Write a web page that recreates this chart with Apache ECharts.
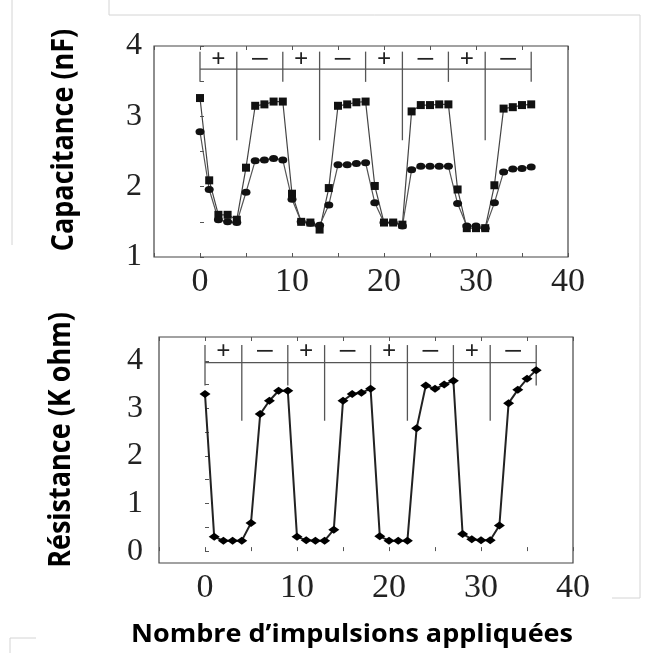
<!DOCTYPE html>
<html>
<head>
<meta charset="utf-8">
<script src="https://cdn.jsdelivr.net/npm/echarts@6/dist/echarts.min.js"></script>
<style>
html, body { margin: 0; padding: 0; background: #fff; }
#chart { width: 654px; height: 653px; }
</style>
</head>
<body>
<div id="chart"></div>
<script>
// nombre d'impulsions (axe x)
const pulses = [0,1,2,3,4,5,6,7,8,9,10,11,12,13,14,15,16,17,18,19,20,21,22,23,24,25,26,27,28,29,30,31,32,33,34,35,36]
// capacitance (nF), courbe carrés / courbe ronds
const capSquares = [3.26,2.09,1.60,1.60,1.53,2.27,3.15,3.17,3.21,3.21,1.90,1.50,1.49,1.39,1.98,3.15,3.17,3.20,3.21,2.01,1.49,1.49,1.46,3.07,3.16,3.16,3.17,3.17,1.96,1.41,1.41,1.41,2.02,3.11,3.13,3.16,3.17]
const capCircles = [2.78,1.96,1.53,1.50,1.49,1.92,2.37,2.38,2.40,2.38,1.82,1.50,1.48,1.45,1.74,2.31,2.31,2.33,2.34,1.77,1.49,1.49,1.44,2.24,2.29,2.29,2.29,2.29,1.76,1.44,1.44,1.41,1.77,2.21,2.25,2.26,2.28]
// résistance (K ohm)
const resistance = [3.30,0.30,0.22,0.22,0.22,0.59,2.88,3.16,3.37,3.37,0.30,0.23,0.22,0.22,0.45,3.16,3.30,3.33,3.41,0.31,0.22,0.22,0.22,2.58,3.48,3.41,3.50,3.58,0.36,0.25,0.23,0.23,0.54,3.11,3.39,3.62,3.80]
// limites des séquences +/-
const segBounds = [0,4,9,13,18,22,27,31,36]
const segSigns = ['+','\u2212','+','\u2212','+','\u2212','+','\u2212']
const xTicks = [0,10,20,30,40]
const capTicks = [1,2,3,4]
const resTicks = [0,1,2,3,4]

const serif = '"Liberation Serif", "DejaVu Serif", serif'
const sans = '"Open Sans", "Liberation Sans", sans-serif'

const chart = echarts.init(document.getElementById('chart'))

// crochets + / - dessinés dans le repère de l'axe
function bracket(idx, lineY, topY, shortY, longY, signY) {
  return {
    type: 'custom',
    xAxisIndex: idx * 2,
    yAxisIndex: idx,
    silent: true,
    z: 1,
    data: [0],
    renderItem: (params, api) => {
      const children = []
      const a = api.coord([segBounds[0], lineY])
      const b = api.coord([segBounds[segBounds.length - 1], lineY])
      children.push({ type: 'line', shape: { x1: a[0], y1: a[1], x2: b[0], y2: b[1] }, style: { stroke: '#555', lineWidth: 1.3 } })
      segBounds.forEach((x, i) => {
        const p1 = api.coord([x, topY])
        const p2 = api.coord([x, i % 2 === 1 ? longY : shortY])
        children.push({ type: 'line', shape: { x1: p1[0], y1: p1[1], x2: p2[0], y2: p2[1] }, style: { stroke: '#555', lineWidth: 1.3 } })
      })
      segSigns.forEach((s, i) => {
        const c = api.coord([(segBounds[i] + segBounds[i + 1]) / 2, signY])
        children.push({
          type: 'text', x: c[0], y: c[1], scaleX: s === '+' ? 1 : 1.35,
          style: { text: s, x: 0, y: 0, textAlign: 'center', textVerticalAlign: 'middle', font: 'bold 25px ' + serif, fill: '#222' }
        })
      })
      return { type: 'group', children }
    }
  }
}

function xAxes(gridIndex) {
  return [
    {
      type: 'value', gridIndex, min: -5, max: 40, interval: 5,
      axisLine: { show: false },
      axisTick: { inside: true, length: 4, lineStyle: { color: '#555' } },
      axisLabel: { formatter: v => (xTicks.includes(v) ? String(v) : ''), fontFamily: serif, fontSize: 34, color: '#222', margin: 8 },
      splitLine: { show: false }
    },
    {
      type: 'value', gridIndex, position: 'top', min: -5, max: 40, interval: 5,
      axisLine: { show: false },
      axisTick: { inside: true, length: 4, lineStyle: { color: '#555' } },
      axisLabel: { show: false },
      splitLine: { show: false }
    }
  ]
}

const option = {
  animation: false,
  grid: [
    { left: 154, top: 46, width: 414, height: 211, show: true, borderColor: '#444', borderWidth: 1.2 },
    { left: 159, top: 337, width: 414, height: 226, show: true, borderColor: '#444', borderWidth: 1.2 }
  ],
  xAxis: [...xAxes(0), ...xAxes(1)],
  yAxis: [
    {
      type: 'value', gridIndex: 0, min: 1, max: 4, interval: 1,
      axisLine: { show: false },
      axisTick: { inside: true, length: 4, lineStyle: { color: '#555' } },
      minorTick: { show: true, splitNumber: 2, length: 4, lineStyle: { color: '#555' } },
      axisLabel: { formatter: v => (capTicks.includes(v) ? String(v) : ''), fontFamily: serif, fontSize: 32, color: '#222', margin: 12 },
      splitLine: { show: false }
    },
    {
      type: 'value', gridIndex: 1, min: -0.25, max: 4.5,
      axisLine: { show: false },
      axisTick: { inside: true, length: 4, customValues: [0, 0.5, 1, 1.5, 2, 2.5, 3, 3.5, 4], lineStyle: { color: '#555' } },
      axisLabel: { customValues: resTicks, fontFamily: serif, fontSize: 32, color: '#222', margin: 16 },
      splitLine: { show: false }
    }
  ],
  series: [
    bracket(0, 3.67, 3.92, 3.49, 2.66, 3.8),
    bracket(1, 3.96, 4.33, 3.48, 2.74, 4.17),
    {
      name: 'Capacitance 1', type: 'line', xAxisIndex: 0, yAxisIndex: 0,
      data: pulses.map((p, i) => [p, capSquares[i]]),
      symbol: 'rect', symbolSize: 8,
      lineStyle: { color: '#444', width: 1.2 },
      itemStyle: { color: '#111' }
    },
    {
      name: 'Capacitance 2', type: 'line', xAxisIndex: 0, yAxisIndex: 0,
      data: pulses.map((p, i) => [p, capCircles[i]]),
      symbol: 'circle', symbolSize: [9, 7],
      lineStyle: { color: '#555', width: 1.2 },
      itemStyle: { color: '#111' }
    },
    {
      name: 'Résistance', type: 'line', xAxisIndex: 2, yAxisIndex: 1,
      data: pulses.map((p, i) => [p, resistance[i]]),
      symbol: 'diamond', symbolSize: [11, 8],
      lineStyle: { color: '#222', width: 2 },
      itemStyle: { color: '#000' }
    }
  ],
  graphic: [
    { type: 'line', shape: { x1: 12, y1: 0, x2: 12, y2: 245 }, style: { stroke: '#d4d4d4', lineWidth: 1 } },
    { type: 'line', shape: { x1: 109, y1: 0, x2: 109, y2: 15 }, style: { stroke: '#d4d4d4', lineWidth: 1 } },
    { type: 'line', shape: { x1: 109, y1: 15, x2: 640, y2: 15 }, style: { stroke: '#d4d4d4', lineWidth: 1 } },
    { type: 'line', shape: { x1: 640, y1: 15, x2: 640, y2: 598 }, style: { stroke: '#d4d4d4', lineWidth: 1 } },
    { type: 'line', shape: { x1: 612, y1: 598, x2: 640, y2: 598 }, style: { stroke: '#d4d4d4', lineWidth: 1 } },
    { type: 'line', shape: { x1: 10, y1: 638, x2: 10, y2: 653 }, style: { stroke: '#d4d4d4', lineWidth: 1 } },
    { type: 'line', shape: { x1: 10, y1: 638, x2: 36, y2: 638 }, style: { stroke: '#d4d4d4', lineWidth: 1 } },
    {
      type: 'text', x: 64, y: 140, rotation: Math.PI / 2, scaleY: 1.15,
      style: { text: 'Capacitance (nF)', font: 'bold 27px ' + sans, fill: '#000', textAlign: 'center', textVerticalAlign: 'middle' }
    },
    {
      type: 'text', x: 61, y: 440, rotation: Math.PI / 2, scaleY: 1.15,
      style: { text: 'Résistance (K ohm)', font: 'bold 27px ' + sans, fill: '#000', textAlign: 'center', textVerticalAlign: 'middle' }
    },
    {
      type: 'text', x: 352, y: 635, scaleX: 1.08,
      style: { text: 'Nombre d\u2019impulsions appliquées', font: 'bold 25px ' + sans, fill: '#000', textAlign: 'center', textVerticalAlign: 'middle' }
    }
  ]
}

chart.setOption(option)
</script>
</body>
</html>
